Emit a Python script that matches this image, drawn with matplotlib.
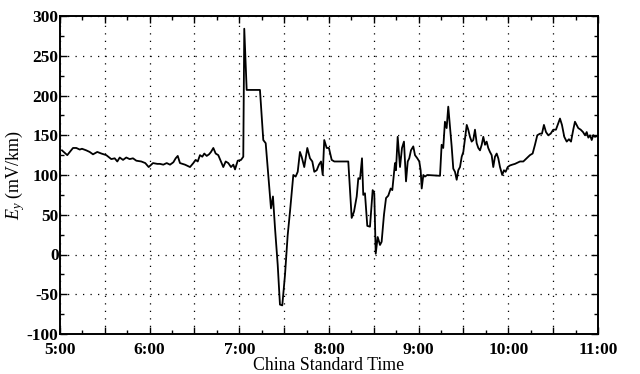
import matplotlib
matplotlib.use("Agg")
import matplotlib.pyplot as plt
from matplotlib.ticker import MultipleLocator, FuncFormatter

# Time in decimal hours (China Standard Time)
hours = [5.022, 5.081, 5.145, 5.182, 5.220, 5.245, 5.293, 5.331, 5.368, 5.416,
         5.461, 5.516, 5.572, 5.610, 5.639, 5.666, 5.703, 5.739, 5.777, 5.814,
         5.851, 5.907, 5.951, 5.989, 6.037, 6.085,
         6.115, 6.152, 6.190, 6.227, 6.264, 6.290, 6.313, 6.338, 6.394, 6.450,
         6.487, 6.513, 6.536, 6.561, 6.587, 6.609, 6.636, 6.662, 6.684, 6.710,
         6.736, 6.765, 6.795, 6.821, 6.848, 6.877, 6.907, 6.933, 6.952, 6.982,
         7.019, 7.044,
         7.055, 7.082, 7.230, 7.249, 7.267, 7.294, 7.323, 7.353, 7.375, 7.398,
         7.428, 7.453, 7.479, 7.509, 7.539, 7.565, 7.602, 7.628, 7.651, 7.676,
         7.695, 7.724, 7.758, 7.788, 7.814, 7.836, 7.863, 7.888, 7.911, 7.930,
         7.947, 7.974, 7.999, 8.030, 8.059, 8.215,
         8.253, 8.279, 8.309, 8.327, 8.346, 8.368, 8.382, 8.401, 8.427, 8.457,
         8.487, 8.505, 8.521, 8.543, 8.569, 8.587, 8.613, 8.636, 8.661, 8.688,
         8.706, 8.717, 8.736, 8.747, 8.766, 8.792, 8.814, 8.836, 8.859, 8.878,
         8.895, 8.914, 8.940, 8.959, 8.985, 9.007, 9.022, 9.034, 9.052, 9.070,
         9.096, 9.238,
         9.256, 9.274, 9.293, 9.312, 9.330, 9.349, 9.368, 9.386, 9.405, 9.424,
         9.442, 9.461, 9.480, 9.498, 9.517, 9.536, 9.553, 9.572, 9.591, 9.609,
         9.628, 9.647, 9.665, 9.684, 9.703, 9.721, 9.740, 9.758, 9.776, 9.795,
         9.814, 9.832, 9.851, 9.870, 9.888, 9.907, 9.932, 9.951, 9.970, 9.993,
         10.018, 10.044, 10.074, 10.093, 10.130, 10.167, 10.204, 10.241, 10.271,
         10.297, 10.323, 10.353, 10.375, 10.397, 10.420, 10.445, 10.472, 10.501,
         10.531, 10.557, 10.576, 10.598, 10.624, 10.651, 10.676, 10.699, 10.724,
         10.743, 10.762, 10.780, 10.807, 10.833, 10.855, 10.874, 10.892, 10.911,
         10.930, 10.947, 10.966, 10.992]

# Ey in mV/km
ey = [131, 125, 134, 134, 132, 133, 131, 129, 126, 129,
      127, 125, 120, 121, 117, 122, 119, 122, 120, 121,
      118, 117, 115, 110, 115, 114,
      114, 113, 115, 113, 116, 121, 124, 115, 113, 110,
      115, 119, 117, 125, 123, 127, 124, 126, 129, 134,
      127, 125, 117, 110, 117, 115, 110, 113, 107, 118,
      119, 123,
      284, 207, 207, 175, 144, 140, 100, 58, 73, 33,
      -13, -63, -64, -26, 24, 54, 100, 98, 104, 129,
      123, 110, 134, 121, 117, 104, 106, 113, 117, 100,
      144, 134, 134, 119, 117, 117,
      46, 54, 73, 96, 95, 121, 75, 77, 36, 35,
      81, 77, 1, 22, 12, 16, 50, 71, 74, 83,
      81, 94, 115, 106, 148, 110, 134, 142, 92, 117,
      121, 131, 136, 125, 121, 117, 106, 83, 100, 98,
      100, 99,
      138, 134, 167, 159, 186, 161, 136, 108, 104, 94,
      106, 110, 123, 129, 146, 163, 157, 148, 142, 144,
      157, 140, 134, 131, 138, 148, 138, 142, 134, 129,
      125, 110, 123, 127, 121, 110, 100, 106, 104, 110,
      112, 113, 114, 115, 117, 117, 121, 125, 127,
      138, 150, 152, 152, 163, 154, 150, 152, 157,
      157, 165, 171, 163, 148, 142, 145, 142, 157,
      167, 163, 159, 157, 154, 150, 154, 147, 150,
      144, 150, 148, 149]

x_label = "China Standard Time"
y_label = r"$E_y$ (mV/km)"

plt.rcParams["font.family"] = ["Liberation Serif", "DejaVu Serif"]
plt.rcParams["mathtext.fontset"] = "custom"
plt.rcParams["mathtext.rm"] = "Liberation Serif"
plt.rcParams["mathtext.it"] = "Liberation Serif:italic"

fig = plt.figure(figsize=(6.4, 3.74), dpi=100)
ax = fig.add_axes([60/640, 1 - 334/374, 538/640, 318/374])

ax.plot(hours, ey, color="black", lw=1.3)

ax.set_xlim(5, 11)
ax.set_ylim(-100, 300)
ax.xaxis.set_major_locator(MultipleLocator(0.5))
ax.xaxis.set_minor_locator(MultipleLocator(0.25))
ax.yaxis.set_major_locator(MultipleLocator(50))
ax.yaxis.set_minor_locator(MultipleLocator(25))

def fmt_time(v, pos):
    if abs(v - round(v)) < 1e-6:
        return f"{int(round(v))}:00"
    return ""

ax.xaxis.set_major_formatter(FuncFormatter(fmt_time))
ax.yaxis.set_major_formatter(FuncFormatter(lambda v, p: f"{int(v)}"))

ax.grid(True, which="major", color="black", linestyle=(0, (1, 5)), lw=0.9)
ax.tick_params(which="both", direction="in", top=True, right=True,
               width=1.0, labelsize=12.5)
ax.tick_params(which="major", length=5)
ax.tick_params(which="minor", length=3)
ax.tick_params(axis="y", pad=1)
ax.tick_params(axis="x", pad=6)
for lab in ax.get_xticklabels() + ax.get_yticklabels():
    lab.set_fontweight("bold")
for sp in ax.spines.values():
    sp.set_linewidth(1.4)

ax.set_xlabel(x_label, fontsize=12.8, labelpad=-1)
ax.set_ylabel(y_label, fontsize=13, labelpad=0)

fig.savefig("out.png", dpi=100)
